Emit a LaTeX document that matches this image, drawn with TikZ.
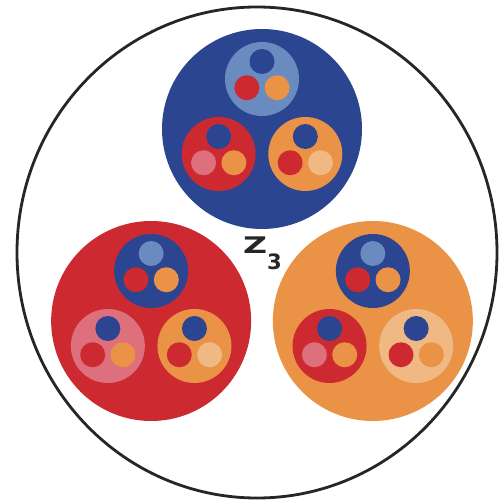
\documentclass[tikz,border=0pt]{standalone}
\usepackage{fontspec}
\setmainfont{DejaVu Sans}
\definecolor{zblue}{HTML}{2B4590}
\definecolor{zred}{HTML}{CC2A30}
\definecolor{zorange}{HTML}{EA9245}
\definecolor{zsky}{HTML}{6A8BC0}
\definecolor{zpink}{HTML}{DD707C}
\definecolor{zpeach}{HTML}{F0B984}

\begin{document}
\begin{tikzpicture}[
  big/.style={circle, inner sep=0pt, minimum size=4cm},
  mid/.style={circle, inner sep=0pt, minimum size=1.48cm},
  dot/.style={circle, inner sep=0pt, minimum size=5mm}
]
  \useasboundingbox (-5.24,-4.88) rectangle (4.74,5.14);
  \draw[line width=1.6pt, black!85] (-0.1,0.09) ellipse [x radius=4.8, y radius=4.91];

  % first level
  \node[big, fill=zblue] (blue) at (90:2.56) {};
  \node[big, fill=zred] (red) at (210:2.56) {};
  \node[big, fill=zorange] (orange) at (330:2.56) {};

  % second level
  \node[mid, fill=zsky] (blue-t) at ([shift={(90:1)}]blue.center) {};
  \node[mid, fill=zred] (blue-l) at ([shift={(210:1)}]blue.center) {};
  \node[mid, fill=zorange] (blue-r) at ([shift={(330:1)}]blue.center) {};
  \node[mid, fill=zblue] (red-t) at ([shift={(90:1)}]red.center) {};
  \node[mid, fill=zpink] (red-l) at ([shift={(210:1)}]red.center) {};
  \node[mid, fill=zorange] (red-r) at ([shift={(330:1)}]red.center) {};
  \node[mid, fill=zblue] (orange-t) at ([shift={(90:1)}]orange.center) {};
  \node[mid, fill=zred] (orange-l) at ([shift={(210:1)}]orange.center) {};
  \node[mid, fill=zpeach] (orange-r) at ([shift={(330:1)}]orange.center) {};

  % third level
  \foreach \m/\ct/\cl/\cr in {blue-t/zblue/zred/zorange, blue-l/zblue/zpink/zorange,
      blue-r/zblue/zred/zpeach, red-t/zsky/zred/zorange, red-l/zblue/zred/zorange,
      red-r/zblue/zred/zpeach, orange-t/zsky/zred/zorange, orange-l/zblue/zpink/zorange,
      orange-r/zblue/zred/zorange} {
    \node[dot, fill=\ct] (\m-t) at ([shift={(90:.35)}]\m.center) {};
    \node[dot, fill=\cl] (\m-l) at ([shift={(210:.35)}]\m.center) {};
    \node[dot, fill=\cr] (\m-r) at ([shift={(330:.35)}]\m.center) {};
  }

  \node[inner sep=0pt, text=black!85, font=\bfseries\fontsize{13}{13}\selectfont] (z3) at (0.01,0.08)
    {\scalebox{1.45}[1]{Z}\raisebox{-1.3ex}{\fontsize{12}{12}\selectfont 3}};
\end{tikzpicture}
\end{document}
